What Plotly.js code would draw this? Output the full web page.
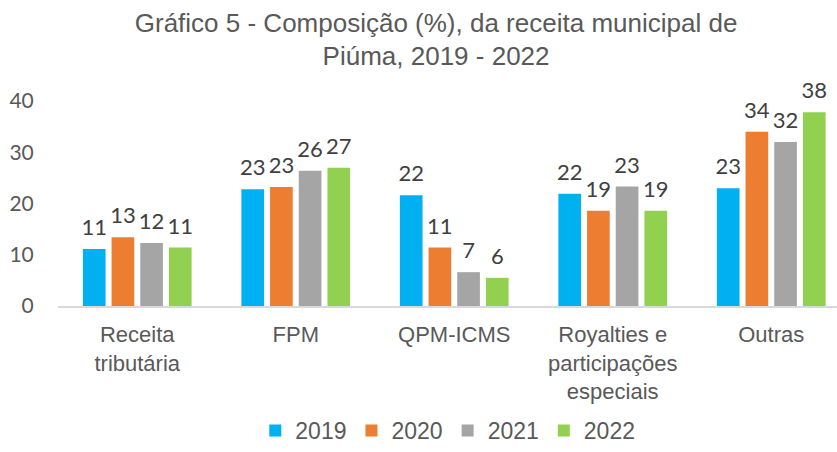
<!DOCTYPE html>
<html>
<head>
<meta charset="utf-8">
<script src="https://cdn.plot.ly/plotly-3.0.1.min.js"></script>
<style>html,body{margin:0;padding:0;background:#fff;}#chart{width:837px;height:452px;}</style>
</head>
<body>
<div id="chart"></div>
<script>
const categories = ["Receita<br>tributária", "FPM", "QPM-ICMS", "Royalties e<br>participações<br>especiais", "Outras"];
const years = ["2019", "2020", "2021", "2022"];
const v2019 = [11.1, 22.8, 21.6, 21.9, 23.0];
const v2020 = [13.4, 23.2, 11.4, 18.6, 34.0];
const v2021 = [12.3, 26.4, 6.6, 23.3, 32.0];
const v2022 = [11.4, 27.0, 5.5, 18.6, 37.8];
const colors = ["#00B0F0", "#ED7D31", "#A5A5A5", "#92D050"];
const series = [v2019, v2020, v2021, v2022];

const barTraces = series.map((vals, i) => ({
  type: "bar",
  name: years[i],
  x: categories,
  y: vals,
  offsetgroup: years[i],
  marker: {color: colors[i]},
  hoverinfo: "none"
}));

const labelTraces = series.map((vals, i) => ({
  type: "scatter",
  mode: "markers+text",
  name: years[i],
  x: categories,
  y: vals,
  offsetgroup: years[i],
  showlegend: false,
  marker: {size: 12, opacity: 0, color: colors[i]},
  text: vals.map(v => Math.round(v).toString()),
  textposition: "top center",
  cliponaxis: false,
  textfont: {family: "Lato, sans-serif", size: 22, color: "#404040"},
  hoverinfo: "none"
}));

const layout = {
  width: 837, height: 452,
  paper_bgcolor: "#fff", plot_bgcolor: "#fff",
  margin: {l: 58, r: 0, t: 101, b: 146},
  title: {
    text: "Gráfico 5 - Composição (%), da receita municipal de<br>Piúma, 2019 - 2022",
    font: {family: "Liberation Sans, Arial, sans-serif", size: 26, color: "#595959"},
    x: 0.521, xanchor: "center", xref: "container",
    y: 0.93, yanchor: "top", yref: "container"
  },
  barmode: "group",
  bargap: 0.276,
  bargroupgap: 0.21,
  scattermode: "group",
  scattergap: 0.276,
  showlegend: true,
  legend: {
    orientation: "h", x: 0.535, xanchor: "center", xref: "container",
    y: 0.0, yanchor: "bottom", yref: "container",
    font: {family: "Liberation Sans, Arial, sans-serif", size: 23, color: "#595959"},
    itemwidth: 30, traceorder: "normal"
  },
  xaxis: {
    type: "category",
    range: [-0.5, 4.415],
    showline: true, linecolor: "#D9D9D9", linewidth: 1.5,
    showgrid: false, zeroline: false,
    ticks: "outside", ticklen: 8, tickcolor: "rgba(0,0,0,0)",
    tickfont: {family: "Liberation Sans, Arial, sans-serif", size: 22, color: "#595959"},
    fixedrange: true
  },
  yaxis: {
    range: [0, 40],
    tickvals: [0, 10, 20, 30, 40],
    showline: false, showgrid: false, zeroline: false,
    ticks: "outside", ticklen: 19, tickcolor: "rgba(0,0,0,0)",
    tickfont: {family: "Lato, sans-serif", size: 21, color: "#595959"},
    fixedrange: true
  }
};

Plotly.newPlot("chart", barTraces.concat(labelTraces), layout, {displayModeBar: false, staticPlot: true});
</script>
</body>
</html>
